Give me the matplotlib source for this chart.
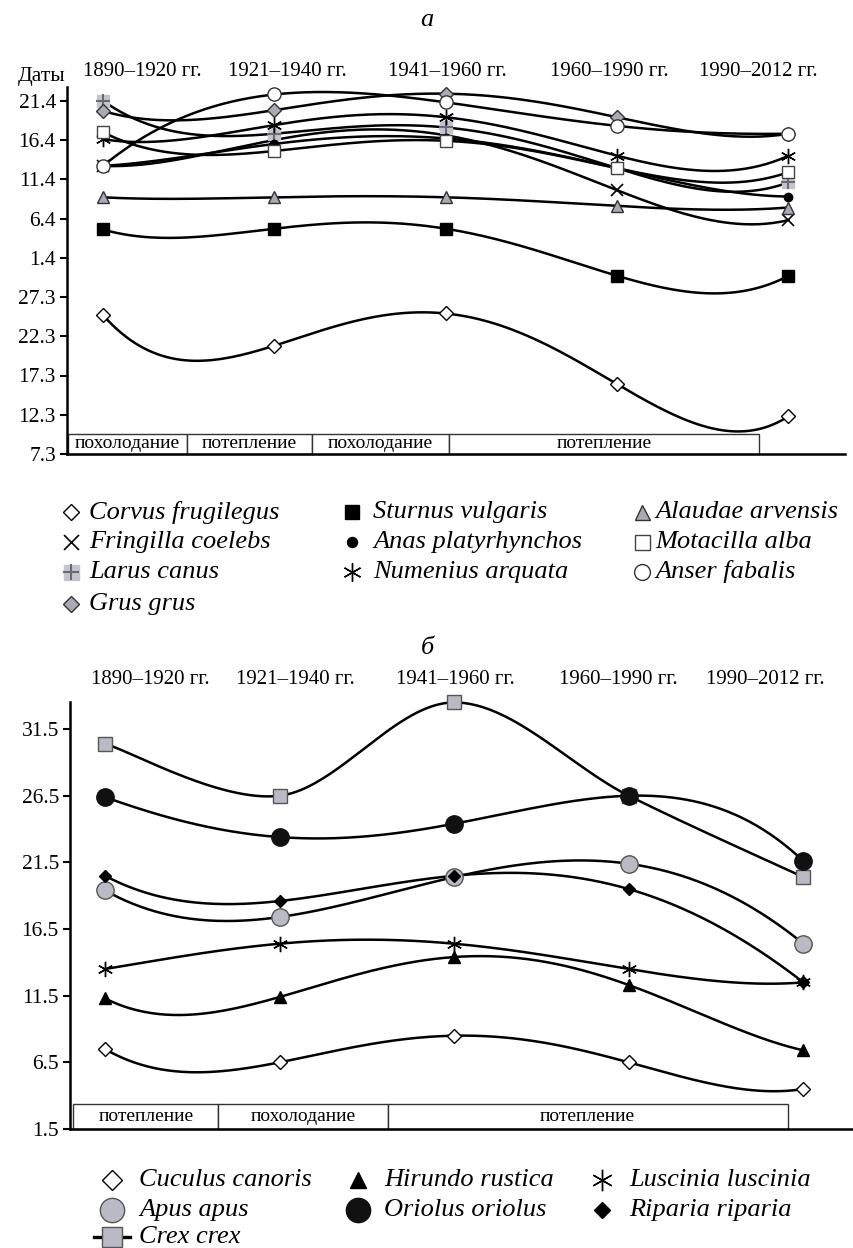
import numpy as np
import matplotlib.pyplot as plt
from matplotlib.patches import Rectangle
from matplotlib.lines import Line2D

plt.rcParams['font.family'] = ['Liberation Serif', 'DejaVu Serif']

W, H = 854, 1248

# ---- data ----
periods = ["1890–1920 гг.", "1921–1940 гг.", "1941–1960 гг.", "1960–1990 гг.", "1990–2012 гг."]

# panel a: arrival dates as days counted from 1 March (32 = 1 April)
a_ticks = [7, 12, 17, 22, 27, 32, 37, 42, 47, 52]
a_ticklabels = ["7.3", "12.3", "17.3", "22.3", "27.3", "1.4", "6.4", "11.4", "16.4", "21.4"]
corvus = [24.7, 20.8, 24.9, 15.9, 11.8]
fringilla = [43.7, 47.0, 47.6, 40.6, 36.8]
larus = [52.0, 47.8, 48.6, 43.4, 41.6]
grus = [50.7, 50.8, 52.9, 49.9, 47.8]
sturnus = [35.6, 35.7, 35.7, 29.7, 29.7]
anas = [43.7, 46.5, 47.2, 43.4, 39.8]
numenius = [47.1, 48.9, 49.9, 45.0, 45.0]
alauda = [39.7, 39.7, 39.7, 38.6, 38.4]
motacilla = [48.0, 45.6, 46.9, 43.4, 42.9]
anser = [43.7, 52.8, 51.8, 48.8, 47.8]
a_climate = ["похолодание", "потепление", "похолодание", "потепление"]
a_climate_edges = [-0.205, 0.49, 1.22, 2.02, 3.83]

# panel b: arrival dates, day of May
b_ticks = [1.5, 6.5, 11.5, 16.5, 21.5, 26.5, 31.5]
b_ticklabels = ["1.5", "6.5", "11.5", "16.5", "21.5", "26.5", "31.5"]
cuculus = [7.5, 6.5, 8.5, 6.5, 4.5]
apus = [19.4, 17.4, 20.4, 21.4, 15.4]
crex = [30.4, 26.5, 33.5, 26.5, 20.4]
hirundo = [11.3, 11.4, 14.4, 12.3, 7.4]
oriolus = [26.4, 23.4, 24.4, 26.5, 21.6]
luscinia = [13.5, 15.4, 15.4, 13.5, 12.5]
riparia = [20.5, 18.6, 20.5, 19.5, 12.5]
b_climate = ["потепление", "похолодание", "потепление"]
b_climate_edges = [-0.18, 0.648, 1.62, 3.91]

GRAY = '#a9aab3'
LGRAY = '#c4c5cc'
STAR = (6, 2, 0)

a_series = [
    ("Corvus frugilegus", corvus, [dict(marker='D', ms=7, mfc='white', mec='black')]),
    ("Fringilla coelebs", fringilla, [dict(marker='x', ms=9, mec='black', mew=1.2)]),
    ("Larus canus", larus, [dict(marker='s', ms=9, mfc=LGRAY, mec=LGRAY),
                            dict(marker='+', ms=10, mec='#6a6a72', mew=1.5)]),
    ("Grus grus", grus, [dict(marker='D', ms=7, mfc=GRAY, mec='#333333')]),
    ("Sturnus vulgaris", sturnus, [dict(marker='s', ms=8, mfc='black', mec='black')]),
    ("Anas platyrhynchos", anas, [dict(marker='o', ms=6, mfc='black', mec='black')]),
    ("Numenius arquata", numenius, [dict(marker=STAR, ms=11, mec='black', mew=1.0)]),
    ("Alaudae arvensis", alauda, [dict(marker='^', ms=9, mfc=GRAY, mec='#333333')]),
    ("Motacilla alba", motacilla, [dict(marker='s', ms=9, mfc='white', mec='#444444')]),
    ("Anser fabalis", anser, [dict(marker='o', ms=9.5, mfc='white', mec='#333333')]),
]

b_series = [
    ("Cuculus canoris", cuculus, [dict(marker='D', ms=7, mfc='white', mec='black')], 'poly'),
    ("Apus apus", apus, [dict(marker='o', ms=12.5, mfc='#b9bac4', mec='#555555')], 'poly'),
    ("Crex crex", crex, [dict(marker='s', ms=10, mfc='#b9bac4', mec='#555555')], 'smooth'),
    ("Hirundo rustica", hirundo, [dict(marker='^', ms=8.5, mfc='black', mec='black')], 'poly'),
    ("Oriolus oriolus", oriolus, [dict(marker='o', ms=12.5, mfc='#111111', mec='#111111')], 'poly'),
    ("Luscinia luscinia", luscinia, [dict(marker=STAR, ms=11, mec='black', mew=1.0)], 'poly'),
    ("Riparia riparia", riparia, [dict(marker='D', ms=6, mfc='black', mec='black')], 'poly'),
]


def fx(x):
    return x / W


def fy(y):
    return 1 - y / H


def poly_curve(vals):
    x = np.arange(len(vals))
    c = np.polyfit(x, vals, len(vals) - 1)
    xs = np.linspace(0, len(vals) - 1, 300)
    return xs, np.polyval(c, xs)


def smooth_curve(vals):
    # Excel-like smoothed line (Catmull-Rom Bezier)
    pts = np.column_stack([np.arange(len(vals)), np.asarray(vals, float)])
    ext = np.vstack([pts[0], pts, pts[-1]])
    t = np.linspace(0, 1, 80)[:, None]
    out = []
    for i in range(len(vals) - 1):
        p0, p1, p2, p3 = ext[i], ext[i + 1], ext[i + 2], ext[i + 3]
        c1 = p1 + (p2 - p0) / 6
        c2 = p2 - (p3 - p1) / 6
        out.append((1 - t) ** 3 * p1 + 3 * (1 - t) ** 2 * t * c1 + 3 * (1 - t) * t ** 2 * c2 + t ** 3 * p2)
    out = np.vstack(out)
    return out[:, 0], out[:, 1]


def style_axes(ax, ticks, labels):
    for s in ['top', 'right']:
        ax.spines[s].set_visible(False)
    ax.spines['left'].set_linewidth(1.8)
    ax.spines['bottom'].set_linewidth(1.8)
    ax.set_xticks([])
    ax.set_yticks(ticks)
    ax.set_yticklabels(labels, fontsize=15.5)
    ax.tick_params(axis='y', length=5, width=1.5, pad=3)


def climate_boxes(ax, names, edges, y0, y1):
    for i, name in enumerate(names):
        ax.add_patch(Rectangle((edges[i], y0), edges[i + 1] - edges[i], y1 - y0,
                               fc='white', ec='#333333', lw=1.0, clip_on=False, zorder=1))
        ax.text((edges[i] + edges[i + 1]) / 2, (y0 + y1) / 2, name, ha='center', va='center',
                fontsize=14, zorder=2)


def legend_item(x_m, x_t, y, styles, label, scale, line=False):
    if line:
        fig.add_artist(Line2D([fx(x_m - 18), fx(x_m + 18)], [fy(y), fy(y)], color='black', lw=2.4))
    for st in styles:
        st = dict(st)
        st['ms'] = st['ms'] * scale
        fig.add_artist(Line2D([fx(x_m)], [fy(y)], linestyle='none', **st))
    fig.text(fx(x_t), fy(y), label, ha='left', va='center', fontsize=19, style='italic')


fig = plt.figure(figsize=(W / 100, H / 100), dpi=100)

# ---- panel a ----
ax_a = fig.add_axes([fx(67), fy(454), fx(845 - 67), (454 - 87) / H])
ax_a.set_xlim(-0.21, 4.33)
ax_a.set_ylim(7, 7 + (454 - 87) / 7.85)
style_axes(ax_a, a_ticks, a_ticklabels)
climate_boxes(ax_a, a_climate, a_climate_edges, 7, 9.55)
x = np.arange(len(periods))
for name, vals, styles in a_series:
    xs, ys = poly_curve(vals)
    ax_a.plot(xs, ys, color='black', lw=1.8, zorder=3)
for name, vals, styles in a_series:
    for st in styles:
        ax_a.plot(x, vals, linestyle='none', zorder=4, clip_on=False, **st)

fig.text(fx(427), fy(20), "а", ha='center', va='center', fontsize=19, style='italic')
fig.text(fx(18), fy(76), "Даты", ha='left', va='center', fontsize=15.5)
for cx, lab in zip([142, 287, 447, 609, 758], periods):
    fig.text(fx(cx), fy(71), lab, ha='center', va='center', fontsize=15)

a_cols = [(71, 89), (352, 373), (642, 655)]
a_rows = [512, 542, 572, 604]
a_order = [[0, 1, 2, 3], [4, 5, 6], [7, 8, 9]]
for (xm, xt), idxs in zip(a_cols, a_order):
    for r, i in enumerate(idxs):
        name, vals, styles = a_series[i]
        legend_item(xm, xt, a_rows[r], styles, name, 1.2)

# ---- panel b ----
ax_b = fig.add_axes([fx(70), fy(1129), fx(854 - 70), (1129 - 702) / H])
ax_b.set_xlim(-0.2, 4.29)
ax_b.set_ylim(1.5, 1.5 + (1129 - 702) / 13.33)
style_axes(ax_b, b_ticks, b_ticklabels)
climate_boxes(ax_b, b_climate, b_climate_edges, 1.5, 3.4)
for name, vals, styles, kind in b_series:
    xs, ys = poly_curve(vals) if kind == 'poly' else smooth_curve(vals)
    ax_b.plot(xs, ys, color='black', lw=1.8, zorder=3, clip_on=False)
for name, vals, styles, kind in b_series:
    for st in styles:
        ax_b.plot(x, vals, linestyle='none', zorder=4, clip_on=False, **st)

fig.text(fx(427), fy(648), "б", ha='center', va='center', fontsize=19, style='italic')
for cx, lab in zip([150, 295, 455, 618, 765], periods):
    fig.text(fx(cx), fy(680), lab, ha='center', va='center', fontsize=15)

b_cols = [(112, 139), (358, 384), (602, 629)]
b_rows = [1180, 1210, 1237]
b_order = [[0, 1, 2], [3, 4], [5, 6]]
for (xm, xt), idxs in zip(b_cols, b_order):
    for r, i in enumerate(idxs):
        name, vals, styles, kind = b_series[i]
        legend_item(xm, xt, b_rows[r], styles, name, 1.4, line=(kind == 'smooth'))

fig.savefig("out.png", dpi=100)
